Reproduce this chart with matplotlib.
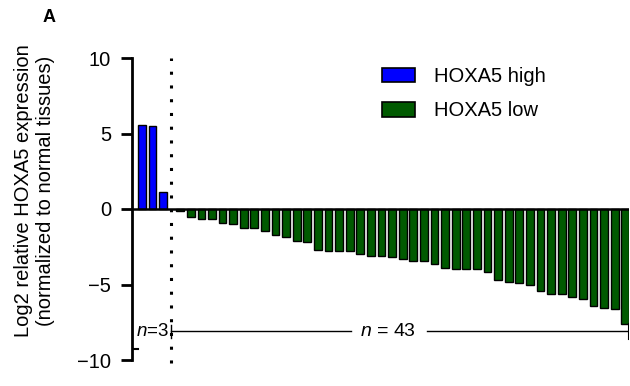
import numpy as np
import matplotlib
matplotlib.use("Agg")
import matplotlib.pyplot as plt
from matplotlib.patches import Patch

plt.rcParams['font.family'] = ['Liberation Sans', 'DejaVu Sans']
plt.rcParams['mathtext.fontset'] = 'custom'
plt.rcParams['mathtext.rm'] = 'Liberation Sans'
plt.rcParams['mathtext.it'] = 'Liberation Sans:italic'

# data
high_vals = [5.57, 5.5, 1.13]
low_vals = [-0.15, -0.55, -0.66, -0.68, -0.95, -1.0, -1.24, -1.28, -1.43, -1.7,
            -1.88, -2.1, -2.2, -2.72, -2.78, -2.8, -2.8, -2.98, -3.09, -3.13,
            -3.2, -3.31, -3.44, -3.44, -3.64, -3.93, -4.0, -4.0, -4.0, -4.19,
            -4.68, -4.81, -4.92, -5.05, -5.43, -5.61, -5.61, -5.85, -5.96, -6.44,
            -6.58, -6.64, -7.62]
labels = ['HOXA5 high', 'HOXA5 low']
colors = ['#0000ff', '#005a00']
yticks = [-10, -5, 0, 5, 10]

x_high = np.arange(len(high_vals))
x_low = 3.6 + np.arange(len(low_vals))

fig = plt.figure(figsize=(6.3, 3.86), dpi=100)
ax = fig.add_axes([132 / 630, 26 / 386, 497 / 630, 302 / 386])

ax.bar(x_high, high_vals, width=0.74, color=colors[0], edgecolor='black', linewidth=1)
ax.bar(x_low, low_vals, width=0.72, color=colors[1], edgecolor='black', linewidth=1)

ax.set_xlim(-0.94, 45.95)
ax.set_ylim(-10, 10)
ax.set_yticks(yticks)
ax.set_xticks([])
for s in ['top', 'right', 'bottom']:
    ax.spines[s].set_visible(False)
ax.spines['left'].set_linewidth(2)
ax.tick_params(axis='y', length=8, width=2, labelsize=14.5, pad=7)
ax.axhline(0, color='black', lw=1.8, zorder=3)

# separator between groups
ax.plot([2.75, 2.75], [-10.2, 10], color='black', lw=2.2, ls=(0, (1, 3.5)), clip_on=False)

# n brackets
yb = -8.1
ax.text(1.0, yb, '$n$=3', ha='center', va='center', fontsize=13.5)
ax.plot([2.75, 2.75], [yb - 0.45, yb + 0.45], color='black', lw=1)
ax.plot([2.75, 19.7], [yb, yb], color='black', lw=1)
ax.text(23.25, yb, '$n$ = 43', ha='center', va='center', fontsize=14)
ax.plot([26.9, 45.95], [yb, yb], color='black', lw=1)
ax.plot([45.95, 45.95], [yb - 0.5, yb + 0.5], color='black', lw=1.5)
ax.plot([-0.94, -0.4], [-9.3, -9.3], color='black', lw=1.5)

handles = [Patch(facecolor=c, edgecolor='black', linewidth=1.2) for c in colors]
ax.legend(handles, labels, loc='upper left', bbox_to_anchor=(0.466, 1.03), frameon=False,
          fontsize=14.5, handlelength=1.65, handleheight=0.75, handletextpad=0.95,
          labelspacing=0.75)

fig.text(35 / 630, 1 - 191 / 386, 'Log2 relative HOXA5 expression\n(normalized to normal tissues)',
         rotation=90, ha='center', va='center', fontsize=14.5, linespacing=1.2)
fig.text(49 / 630, 1 - 17 / 386, 'A', fontsize=13, fontweight='bold', ha='center', va='center')

plt.savefig('out.png', dpi=100)
